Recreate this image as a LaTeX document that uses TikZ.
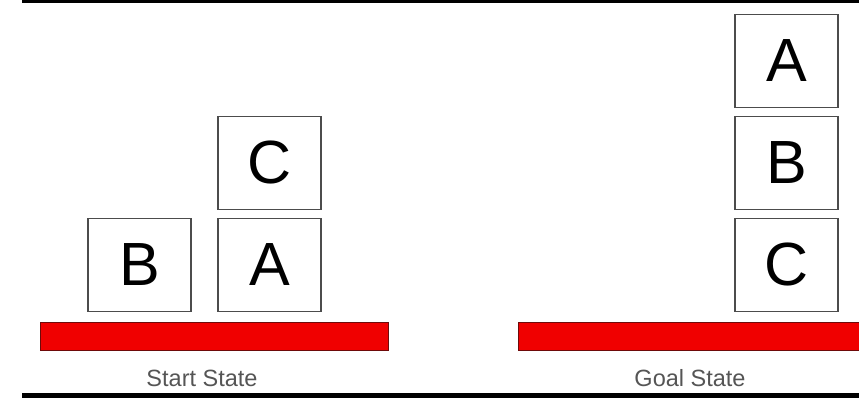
\documentclass[tikz,border=0pt]{standalone}
\usepackage{fontspec}
\setmainfont{Liberation Sans}
\usetikzlibrary{positioning}
\definecolor{tablered}{RGB}{240,0,0}
\definecolor{tableedge}{RGB}{110,10,10}
\definecolor{labelgray}{RGB}{85,85,85}

\begin{document}
\begin{tikzpicture}[x=1pt,y=1pt,
  block/.style={draw=black!70,line width=1.1pt,minimum width=103pt,minimum height=93pt,
    inner sep=0pt,outer sep=0pt,font=\fontsize{61}{61}\selectfont},
  table/.style={fill=tablered,draw=tableedge,line width=0.9pt,minimum height=28pt,
    inner sep=0pt,outer sep=0pt},
  lab/.style={text=labelgray,font=\fontsize{23.5}{23.5}\selectfont}
]
\useasboundingbox (0,0) rectangle (859,398);
% frame bars
\fill[black] (22,394.5) rectangle (859,398);
\fill[black] (22,0) rectangle (859,5.3);
% start state
\node[table,minimum width=348pt] (starttable) at (214,62) {};
\node[block] (startA) at (269.5,133) {A};
\node[block,above=9pt of startA] (startC) {C};
\node[block,left=27pt of startA] (startB) {B};
\node[lab] (startlab) at (202,19.5) {Start State};
% goal state
\begin{scope}
\clip (0,0) rectangle (859,398);
\node[table,minimum width=362pt] (goaltable) at (699,62) {};
\end{scope}
\node[block] (goalC) at (786.5,133) {C};
\node[block,above=9pt of goalC] (goalB) {B};
\node[block,above=9pt of goalB] (goalA) {A};
\node[lab] (goallab) at (690,19.5) {Goal State};
\end{tikzpicture}
\end{document}
